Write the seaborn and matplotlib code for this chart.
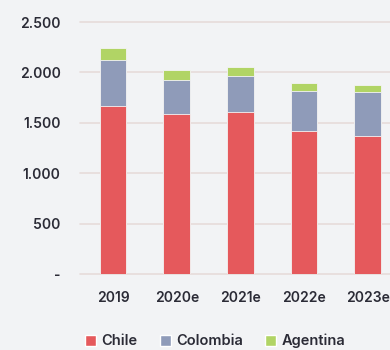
import matplotlib
matplotlib.use("Agg")
import matplotlib.pyplot as plt
import seaborn as sns
import pandas as pd
import numpy as np
from matplotlib.patches import Patch

years = ["2019", "2020e", "2021e", "2022e", "2023e"]
chile = [1664, 1590, 1607, 1422, 1366]
colombia = [456, 332, 357, 396, 440]
argentina = [125, 99, 86, 74, 72]

yticks = [0, 500, 1000, 1500, 2000, 2500]
ytick_labels = ["-", "500", "1.000", "1.500", "2.000", "2.500"]

c_chile = "#e5595c"
c_col = "#8f9bb9"
c_arg = "#b1d465"
bg = "#f2f3f5"
grid_c = "#e6dcda"
text_c = "#2b2b36"

sns.set_theme(style="white")
plt.rcParams["font.family"] = ["Inter", "DejaVu Sans"]

df = pd.DataFrame({"year": years, "chile": chile,
                   "colombia": colombia, "argentina": argentina})
df["lvl2"] = df["chile"] + df["colombia"]
df["lvl3"] = df["lvl2"] + df["argentina"]

fig = plt.figure(figsize=(3.9, 3.5), dpi=100, facecolor=bg)
ax = fig.add_axes([80 / 390, (350 - 274) / 350, 1 - 80 / 390, (274 - 22) / 350])
ax.set_facecolor(bg)

for col, color in [("lvl3", c_arg), ("lvl2", c_col), ("chile", c_chile)]:
    sns.barplot(data=df, x="year", y=col, color=color, width=0.42,
                edgecolor="#f4f4f4", linewidth=0.6, saturation=1, ax=ax, zorder=3)

ax.set_xlim(-0.52, 4.35)
ax.set_ylim(0, 2500)
ax.set_yticks(yticks)
ax.set_yticklabels(ytick_labels)
ax.yaxis.grid(True, color=grid_c, linewidth=1.2, zorder=0)
for gl in ax.get_ygridlines():
    gl.set_clip_on(False)
ax.set_xlabel("")
ax.set_ylabel("")
for s in ax.spines.values():
    s.set_visible(False)
ax.tick_params(axis="y", length=0, pad=14, labelsize=10, labelcolor=text_c)
ax.tick_params(axis="x", length=0, pad=12, labelsize=10, labelcolor=text_c)
for t in ax.get_yticklabels() + ax.get_xticklabels():
    t.set_fontweight("semibold")

handles = [Patch(facecolor=c_chile, label="Chile"),
           Patch(facecolor=c_col, label="Colombia"),
           Patch(facecolor=c_arg, label="Agentina")]
leg = fig.legend(handles=handles, loc="center", bbox_to_anchor=(0.552, 1 - 341 / 350),
                 ncol=3, frameon=False, handlelength=0.75, handleheight=0.75,
                 handletextpad=0.4, columnspacing=1.5,
                 prop={"size": 10.5, "weight": "semibold"})
for t in leg.get_texts():
    t.set_color(text_c)

fig.savefig("out.png", dpi=100, facecolor=bg)
